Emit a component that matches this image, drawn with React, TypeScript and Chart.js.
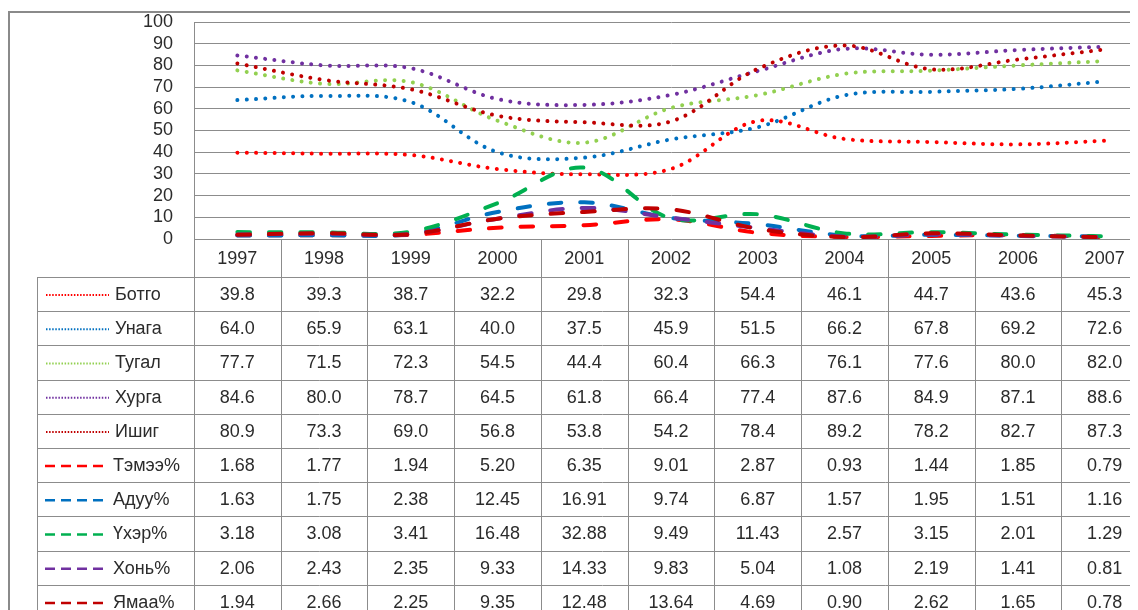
import React, { useEffect, useRef } from "react";
import { Chart, registerables } from "chart.js";

Chart.register(...registerables);

const years = ["1997", "1998", "1999", "2000", "2001", "2002", "2003", "2004", "2005", "2006", "2007"];
const yTicks = [0, 10, 20, 30, 40, 50, 60, 70, 80, 90, 100];

const botgo = [39.8, 39.3, 38.7, 32.2, 29.8, 32.3, 54.4, 46.1, 44.7, 43.6, 45.3];
const unaga = [64.0, 65.9, 63.1, 40.0, 37.5, 45.9, 51.5, 66.2, 67.8, 69.2, 72.6];
const tugal = [77.7, 71.5, 72.3, 54.5, 44.4, 60.4, 66.3, 76.1, 77.6, 80.0, 82.0];
const khurga = [84.6, 80.0, 78.7, 64.5, 61.8, 66.4, 77.4, 87.6, 84.9, 87.1, 88.6];
const ishig = [80.9, 73.3, 69.0, 56.8, 53.8, 54.2, 78.4, 89.2, 78.2, 82.7, 87.3];
const temee = [1.68, 1.77, 1.94, 5.2, 6.35, 9.01, 2.87, 0.93, 1.44, 1.85, 0.79];
const aduu = [1.63, 1.75, 2.38, 12.45, 16.91, 9.74, 6.87, 1.57, 1.95, 1.51, 1.16];
const ukher = [3.18, 3.08, 3.41, 16.48, 32.88, 9.49, 11.43, 2.57, 3.15, 2.01, 1.29];
const khoni = [2.06, 2.43, 2.35, 9.33, 14.33, 9.83, 5.04, 1.08, 2.19, 1.41, 0.81];
const yamaa = [1.94, 2.66, 2.25, 9.35, 12.48, 13.64, 4.69, 0.9, 2.62, 1.65, 0.78];

const seriesNames = ["Ботго", "Унага", "Тугал", "Хурга", "Ишиг", "Тэмээ%", "Адуу%", "Үхэр%", "Хонь%", "Ямаа%"];
const seriesValues = [botgo, unaga, tugal, khurga, ishig, temee, aduu, ukher, khoni, yamaa];
const seriesColors = ["#FF0000", "#0070C0", "#92D050", "#7030A0", "#C00000", "#FF0000", "#0070C0", "#00B050", "#7030A0", "#C00000"];
const seriesDashed = [false, false, false, false, false, true, true, true, true, true];
const seriesDecimals = [1, 1, 1, 1, 1, 2, 2, 2, 2, 2];

const W = 1160;
const H = 602;
const FONT = "18px 'Liberation Sans', Arial, sans-serif";
const TEXT = "#2b2b2b";
const LINE = "#8c8c8c";

const tablePlugin = {
  id: "dataTable",
  afterDraw(chart: any) {
    const { ctx, chartArea } = chart;
    const { left, right, bottom } = chartArea;
    const n = years.length;
    const cw = (right - left) / n;
    const headerH = 38;
    const rowH = 34.2;
    const legendLeft = 29;
    const headerBottom = bottom + headerH;
    ctx.save();
    // outer frame
    ctx.strokeStyle = "#8a8a8a";
    ctx.lineWidth = 2;
    ctx.strokeRect(1, 4, W + 20, H + 20);
    // lines
    ctx.strokeStyle = LINE;
    ctx.lineWidth = 1;
    ctx.beginPath();
    for (let i = 0; i <= n; i++) {
      const x = Math.round(left + i * cw) + 0.5;
      ctx.moveTo(x, bottom);
      ctx.lineTo(x, H);
    }
    for (let k = 0; k <= seriesNames.length; k++) {
      const y = Math.round(headerBottom + k * rowH) + 0.5;
      ctx.moveTo(legendLeft, y);
      ctx.lineTo(W, y);
    }
    ctx.moveTo(legendLeft + 0.5, headerBottom);
    ctx.lineTo(legendLeft + 0.5, H);
    ctx.stroke();
    // header
    ctx.font = FONT;
    ctx.fillStyle = TEXT;
    ctx.textAlign = "center";
    ctx.textBaseline = "middle";
    years.forEach((yr, i) => {
      ctx.fillText(yr, left + (i + 0.5) * cw, bottom + headerH / 2 + 1);
    });
    // rows
    seriesNames.forEach((name, r) => {
      const cy = headerBottom + (r + 0.5) * rowH + 1;
      // legend sample
      ctx.save();
      ctx.strokeStyle = seriesColors[r];
      ctx.beginPath();
      if (seriesDashed[r]) {
        ctx.lineWidth = 2.5;
        ctx.setLineDash([10, 6]);
        ctx.moveTo(37, cy);
        ctx.lineTo(96, cy);
      } else {
        ctx.lineWidth = 2;
        ctx.setLineDash([1.5, 1.6]);
        ctx.moveTo(38, cy);
        ctx.lineTo(101, cy);
      }
      ctx.stroke();
      ctx.restore();
      ctx.textAlign = "left";
      ctx.fillText(name, seriesDashed[r] ? 105 : 107, cy);
      ctx.textAlign = "center";
      seriesValues[r].forEach((v, i) => {
        ctx.fillText(v.toFixed(seriesDecimals[r]), left + (i + 0.5) * cw, cy);
      });
    });
    ctx.restore();
  },
};

export default function App() {
  const ref = useRef<HTMLCanvasElement>(null);
  useEffect(() => {
    if (!ref.current) return;
    const datasets = seriesNames.map((name, i) => ({
      label: name,
      data: seriesValues[i],
      borderColor: seriesColors[i],
      backgroundColor: seriesColors[i],
      borderWidth: 4,
      borderDash: seriesDashed[i] ? [12.5, 19] : [0.01, 9.3],
      borderCapStyle: "round" as const,
      pointRadius: 0,
      tension: 0.35,
      fill: false,
      order: 20 - i,
    }));
    const chart = new Chart(ref.current, {
      type: "line",
      data: { labels: years, datasets },
      options: {
        animation: false,
        responsive: false,
        devicePixelRatio: 1,
        layout: { padding: { top: 14, right: 20, left: 0, bottom: 0 } },
        plugins: { legend: { display: false }, tooltip: { enabled: false } },
        scales: {
          x: {
            offset: true,
            grid: { display: false },
            ticks: { display: false },
            border: { display: false },
            afterFit: (s: any) => {
              s.height = H - 231;
              s.paddingLeft = 0;
              s.paddingRight = 0;
            },
          },
          y: {
            min: 0,
            max: 100,
            afterBuildTicks: (s: any) => {
              s.ticks = yTicks.map((v) => ({ value: v }));
            },
            grid: { color: LINE, lineWidth: 1, drawTicks: false },
            border: { display: true, color: LINE, width: 1 },
            ticks: {
              autoSkip: false,
              padding: 21,
              color: TEXT,
              font: { family: "'Liberation Sans', Arial, sans-serif", size: 18 },
            },
            afterFit: (s: any) => {
              s.width = 186;
              s.paddingTop = 0;
              s.paddingBottom = 0;
            },
          },
        },
      },
      plugins: [tablePlugin],
    });
    return () => chart.destroy();
  }, []);
  return (
    <div style={{ width: 1130, height: 602, overflow: "hidden", position: "relative" }}>
      <canvas ref={ref} width={W} height={H} style={{ width: W, height: H, display: "block" }} />
    </div>
  );
}
